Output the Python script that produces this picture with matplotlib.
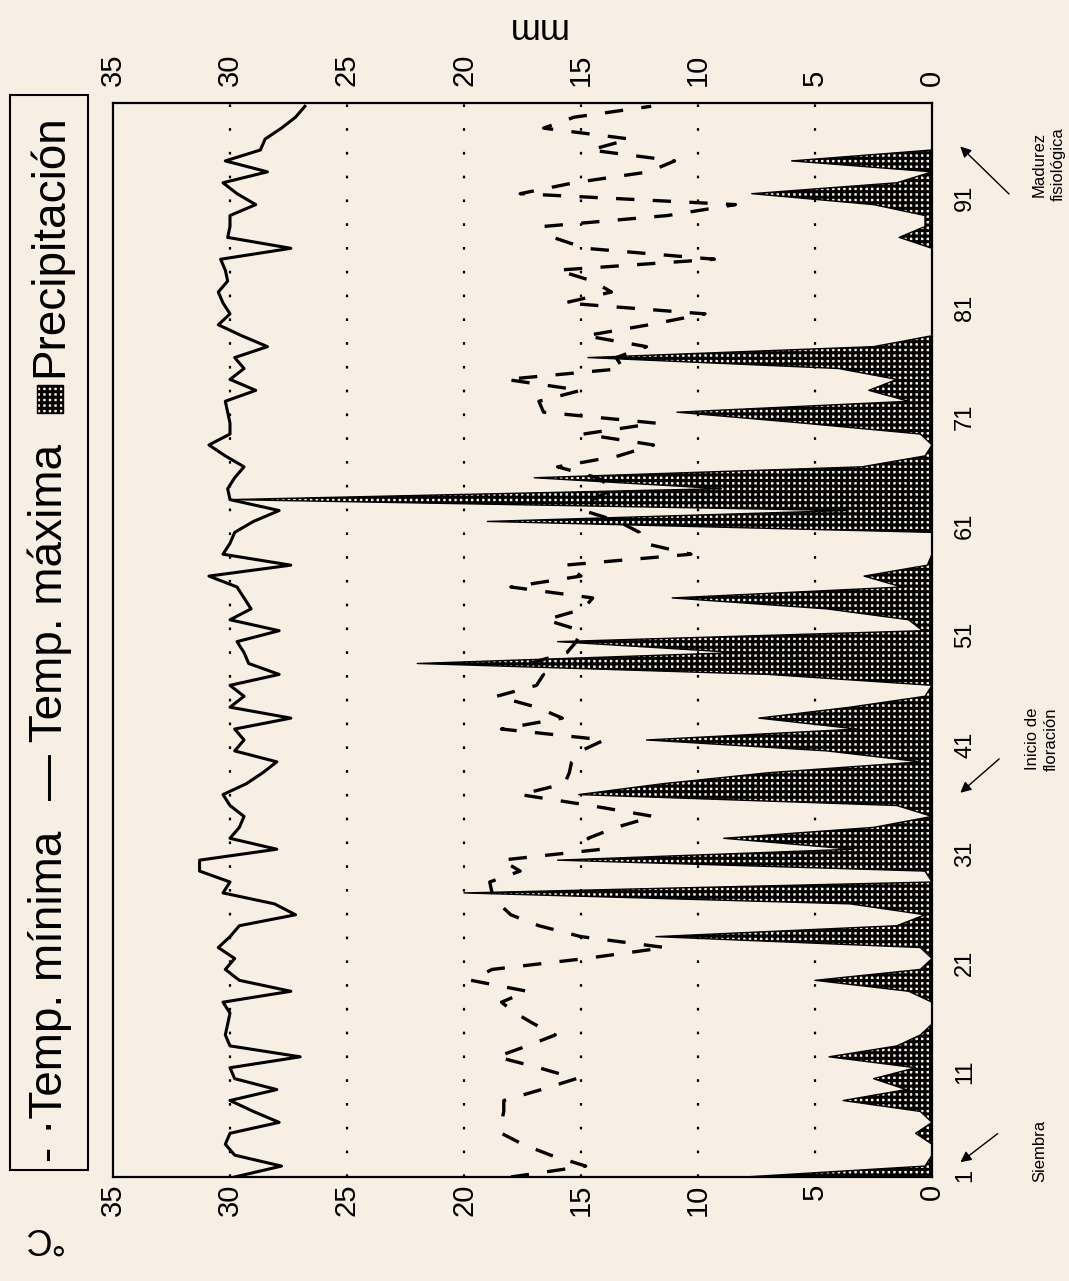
import numpy as np
import matplotlib.pyplot as plt
from matplotlib.patches import Rectangle

plt.rcParams['font.family'] = ['Liberation Sans', 'DejaVu Sans']
plt.rcParams['hatch.linewidth'] = 2.2

# daily series (days after sowing)
days = list(range(1, 100))

t_max = [29.8, 27.8, 29.8, 30.2, 30.0, 27.9, 29.0, 30.0, 28.0, 29.8,
         30.0, 27.0, 30.0, 30.2, 30.1, 30.0, 30.3, 27.4, 29.6, 30.2,
         29.8, 30.5, 30.0, 29.6, 27.2, 28.1, 30.3, 30.0, 31.3, 31.3,
         28.0, 30.0, 29.6, 29.4, 30.0, 30.3, 29.3, 28.6, 28.0, 29.8,
         29.4, 29.8, 27.4, 30.0, 29.4, 30.0, 27.9, 29.2, 29.4, 29.7,
         27.9, 30.0, 29.1, 29.4, 29.7, 30.9, 27.4, 30.3, 30.0, 29.8,
         29.0, 27.9, 30.0, 30.1, 29.8, 29.4, 30.2, 30.9, 30.0, 30.0,
         30.1, 30.2, 28.9, 30.0, 29.4, 29.8, 28.4, 29.5, 30.5, 30.0,
         30.3, 30.5, 30.1, 30.2, 30.4, 27.4, 30.1, 30.0, 30.0, 28.9,
         29.7, 30.3, 28.4, 30.2, 28.7, 28.5, 27.8, 27.2, 26.8]

t_min = [18.0, 14.8, 16.3, 17.5, 18.4, 18.4, 18.3, 18.3, 16.7, 15.2,
         16.8, 18.6, 17.3, 16.1, 17.0, 17.8, 18.4, 17.3, 19.7, 18.8,
         14.8, 11.4, 15.0, 16.8, 18.0, 18.5, 18.8, 18.9, 17.6, 18.4,
         14.1, 14.7, 13.5, 11.9, 14.6, 17.6, 15.7, 15.5, 15.4, 15.0,
         14.0, 18.4, 15.8, 16.9, 18.6, 16.9, 16.6, 17.2, 15.6, 15.2,
         15.0, 16.5, 14.9, 14.5, 18.0, 15.0, 15.7, 10.3, 12.3, 12.5,
         13.4, 14.9, 14.5, 13.6, 14.3, 16.0, 13.4, 11.9, 14.9, 11.8,
         16.6, 16.8, 15.0, 18.2, 13.2, 13.5, 12.2, 14.8, 12.1, 9.7,
         15.7, 13.7, 14.5, 16.0, 9.3, 14.8, 16.2, 16.6, 11.3, 8.4,
         17.6, 15.3, 12.1, 11.0, 14.6, 12.9, 16.6, 15.3, 12.0]

precip = [8.0, 0.3, 0.0, 0.0, 0.7, 0.0, 0.5, 3.8, 1.1, 2.5,
          0.7, 4.4, 1.5, 0.5, 0.0, 0.0, 0.0, 1.0, 5.0, 0.5,
          0.0, 0.5, 11.8, 1.5, 0.3, 3.5, 20.0, 0.0, 0.3, 16.0,
          3.4, 8.9, 2.5, 0.0, 1.5, 15.1, 11.5, 7.0, 0.5, 4.5,
          12.2, 3.2, 7.4, 3.5, 0.3, 0.0, 7.0, 22.0, 8.3, 16.0,
          0.4, 1.0, 4.5, 11.1, 1.3, 2.9, 0.2, 0.0, 0.0, 0.0,
          19.0, 3.7, 30.0, 9.0, 17.0, 3.0, 0.3, 0.0, 0.5, 5.5,
          10.9, 1.0, 2.7, 1.5, 4.0, 14.7, 2.5, 0.0, 0.0, 0.0,
          0.0, 0.0, 0.0, 0.0, 0.0, 0.0, 1.4, 0.3, 0.3, 2.5,
          7.7, 1.5, 0.0, 6.0, 0.0, 0.0, 0.0, 0.0, 0.0]

day_ticks = [1, 11, 21, 31, 41, 51, 61, 71, 81, 91]
value_ticks = [0, 5, 10, 15, 20, 25, 30, 35]
grid_values = [5, 10, 15, 20, 25, 30]

# crop stages: label, day, arrow tail offset (pt), text offset (pt)
stages = [('Siembra', 2.2, (30, 23), (59, 9)),
          ('Inicio de\nfloración', 36.0, (31, 27), (60, 40)),
          ('Madurez\nfisiológica', 95.5, (38, -37), (65, -14))]

legend_labels = ['- ·Temp. mínima', '— Temp. máxima', 'Precipitación']

paper = '#f7eee4'
W, H = 1069, 1281


def px(x0, y0, x1, y1):
    return [x0 / W, 1 - y1 / H, (x1 - x0) / W, (y1 - y0) / H]


fig = plt.figure(figsize=(W / 100, H / 100), dpi=100)
fig.patch.set_facecolor(paper)

ax = fig.add_axes(px(113, 103, 932, 1177))
ax.set_facecolor(paper)
ax.set_xlim(35, 0)
ax.set_ylim(1, 99.3)

for v in grid_values:
    ax.axvline(v, color='black', lw=1.6, linestyle=(0, (1.2, 9.5)), zorder=1)

# precipitation area, value on x and day on y
ax.fill_betweenx(days, 0, precip, facecolor=paper, edgecolor='black',
                 hatch='+++', lw=1.0, zorder=2)

ax.plot(t_max, days, color='black', lw=2.2, zorder=3)
ax.plot(t_min, days, color='black', lw=2.4, linestyle=(0, (5.5, 5.5)), zorder=3)

for s in ax.spines.values():
    s.set_linewidth(1.6)

ax.set_xticks(value_ticks)
ax.set_xticklabels([str(v) for v in value_ticks])
ax.tick_params(axis='x', length=0, labelsize=21, labelrotation=90, pad=5)

top = ax.secondary_xaxis('top')
top.set_xticks(value_ticks)
top.set_xticklabels([str(v) for v in value_ticks])
top.tick_params(axis='x', length=0, labelsize=21, labelrotation=90, pad=12)
top.spines['top'].set_visible(False)

ax.yaxis.tick_right()
ax.set_yticks(day_ticks)
ax.set_yticklabels([str(d) for d in day_ticks])
ax.tick_params(axis='y', length=0, labelsize=17, labelrotation=90, pad=16)

fig.text(42 / W, 1 - 1238 / H, '°C', rotation=180, fontsize=26, ha='center', va='center')
fig.text(535 / W, 1 - 28 / H, 'mm', rotation=180, fontsize=26, ha='center', va='center')

# stage arrows and notes
note_font = ['Liberation Sans Narrow', 'Liberation Sans', 'DejaVu Sans']
trans = ax.get_yaxis_transform()
for label, d, tail, txt in stages:
    ax.annotate('', xy=(1.032, d), xycoords=trans, xytext=tail, textcoords='offset points',
                arrowprops=dict(arrowstyle='-|>', color='black', lw=1.0, mutation_scale=16),
                annotation_clip=False)
    ax.annotate(label, xy=(1.032, d), xycoords=trans, xytext=txt, textcoords='offset points',
                rotation=90, ha='center', va='center', fontsize=12, family=note_font,
                linespacing=1.3, annotation_clip=False)

# legend drawn as a rotated strip on the left (reads bottom to top)
fig.add_artist(Rectangle((10 / W, 1 - 1170 / H), 78 / W, 1075 / H, transform=fig.transFigure,
                         fill=False, lw=1.5, edgecolor='black'))
renderer = fig.canvas.get_renderer()
lx = 50 / W
texts = [fig.text(lx, 0.5, s, rotation=90, ha='center', va='bottom', fontsize=33)
         for s in legend_labels]
lengths = [t.get_window_extent(renderer).height for t in texts]
box, box_gap = 28, 8
start, end = 1162, 114
gap = ((start - end) - sum(lengths) - box - box_gap) / 2

y = start
texts[0].set_position((lx, 1 - y / H))
y -= lengths[0] + gap
texts[1].set_position((lx, 1 - y / H))
y -= lengths[1] + gap
fig.add_artist(Rectangle(((50 - 13) / W, 1 - y / H), 26 / W, box / H,
                         transform=fig.transFigure, facecolor=paper,
                         edgecolor='black', hatch='+++', lw=1.0))
y -= box + box_gap
texts[2].set_position((lx, 1 - y / H))

fig.savefig('out.png', dpi=100, facecolor=paper)
